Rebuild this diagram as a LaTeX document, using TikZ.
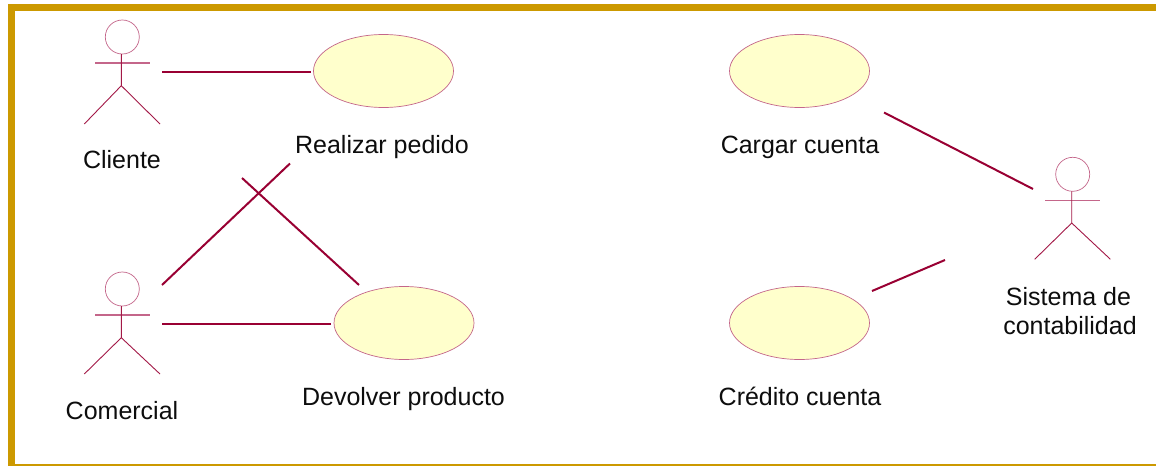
\documentclass[tikz,border=0pt]{standalone}
\usepackage{fontspec}
\setmainfont{Liberation Sans}
\usetikzlibrary{shapes.geometric}
\definecolor{umlline}{HTML}{990033}
\definecolor{umlsoft}{HTML}{C4668A}
\definecolor{umlfill}{HTML}{FFFFCC}
\definecolor{umlframe}{HTML}{CC9900}
\tikzset{
  x=1pt,y=-1pt,
  usecase/.style={ellipse,draw=umlsoft,line width=0.7pt,fill=umlfill,minimum width=140pt,minimum height=73pt,inner sep=0pt},
  assoc/.style={draw=umlline,line width=2pt},
  limb/.style={draw=umlline!90!white,line width=0.9pt},
  armline/.style={draw=umlsoft,line width=1.2pt},
  head/.style={circle,draw=umlsoft,line width=0.7pt,minimum size=34pt,inner sep=0pt},
  lbl/.style={anchor=base,font=\fontsize{25}{30}\selectfont,text=black!95,inner sep=0pt},
  frameedge/.style={fill=umlframe,draw=none}
}
% name, body x, head y, foot offset below the head centre
\newcommand{\umlactor}[4]{%
  \node[head] (#1) at (#2+1,#3) {};
  \draw[armline] (#2-26.3,#3+26) -- (#2+28.7,#3+26);
  \draw[limb] (#2,#3+17) -- (#2,#3+48.7) -- (#2-37,#3+#4);
  \draw[limb] (#2,#3+48.7) -- (#2+38.7,#3+#4);
}
\begin{document}
\begin{tikzpicture}
\useasboundingbox (0,0) rectangle (1156,466);
\fill[white] (0,0) rectangle (1156,466);
\fill[frameedge] (7.5,4) rectangle (1156,11);
\fill[frameedge] (7.5,4) rectangle (14.5,466);
\fill[frameedge] (7.5,464) rectangle (1156,466);

\umlactor{cliente}{121.3}{37}{87}
\umlactor{comercial}{121.3}{289}{85}
\umlactor{sistema}{1071.7}{174.3}{85}

\node[usecase] (realizar) at (383.5,71) {};
\node[usecase] (devolver) at (404,323) {};
\node[usecase] (cargar) at (799.5,71) {};
\node[usecase] (credito) at (799.5,323) {};

\node[lbl] (tcliente) at (122,168) {Cliente};
\node[lbl] (trealizar) at (382,153) {Realizar pedido};
\node[lbl] (tcomercial) at (122,419) {Comercial};
\node[lbl] (tdevolver) at (403.5,405) {Devolver producto};
\node[lbl] (tcargar) at (800,153) {Cargar cuenta};
\node[lbl] (tcredito) at (800,405) {Crédito cuenta};
\node[lbl] (tsistema) at (1068.5,305) {Sistema de};
\node[lbl] (tconta) at (1070,334) {contabilidad};

\coordinate (c1) at (162,72);
\coordinate (c2) at (311,72);
\coordinate (c3) at (162,285);
\coordinate (c4) at (290,163.5);
\coordinate (c5) at (359,285);
\coordinate (c6) at (242,178);
\coordinate (c7) at (162,324);
\coordinate (c8) at (331,324);
\coordinate (c9) at (884,112.5);
\coordinate (c10) at (1033,189);
\coordinate (c11) at (872,291);
\coordinate (c12) at (945,260);
\draw[assoc] (c1) -- (c2);
\draw[assoc] (c3) -- (c4);
\draw[assoc] (c5) -- (c6);
\draw[assoc] (c7) -- (c8);
\draw[assoc] (c9) -- (c10);
\draw[assoc] (c11) -- (c12);
\end{tikzpicture}
\end{document}
